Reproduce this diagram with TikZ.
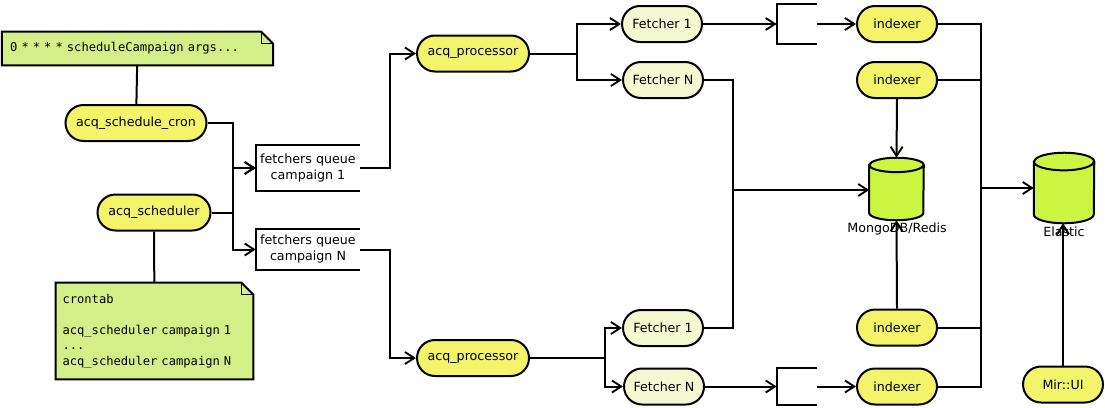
\documentclass[tikz,border=0pt]{standalone}
\usepackage{fontspec}
\setmainfont{DejaVu Sans}
\setmonofont{DejaVu Sans Mono}
\usepackage{tikz}
\usetikzlibrary{arrows.meta,backgrounds}

\definecolor{procyellow}{RGB}{244,244,106}
\definecolor{fetchyellow}{RGB}{245,249,210}
\definecolor{notegreen}{RGB}{212,239,136}
\definecolor{storegreen}{RGB}{204,245,66}

\tikzset{
  wire/.style={line width=1.5pt},
  flow/.style={wire,-{Straight Barb[length=7pt,width=9pt,line width=1.4pt]}},
  proc/.style={draw,wire,fill=procyellow,rounded corners=13.5pt,
    minimum height=27pt,inner sep=0pt},
  fetcher/.style={proc,fill=fetchyellow,minimum width=60pt},
  queue/.style={inner sep=0pt,align=center,minimum width=78pt},
  bracketbox/.style={inner sep=0pt,minimum width=30pt},
  note/.style={inner ysep=0pt,inner xsep=5pt,align=left,
    font=\ttfamily\fontsize{9.1}{11.6}\selectfont},
  store/.style={inner sep=0pt}
}

% note with a turned-down corner
\newcommand{\notefold}[1]{%
  \begin{scope}[on background layer]
    \draw[wire,fill=notegreen] (#1.south west) -- (#1.north west)
      -- ([xshift=-9pt]#1.north east) -- ([yshift=-9pt]#1.north east)
      -- (#1.south east) -- cycle;
    \draw[line width=0.6pt] ([xshift=-9pt]#1.north east)
      -- ([xshift=-9pt,yshift=-9pt]#1.north east) -- ([yshift=-9pt]#1.north east);
  \end{scope}}
% box open on its right side
\newcommand{\openbox}[1]{%
  \draw[wire] (#1.north east) -- (#1.north west) -- (#1.south west) -- (#1.south east);}
% upright drum: node name, x radius, y radius
\newcommand{\drum}[3]{%
  \filldraw[wire,fill=storegreen] ([yshift=-#3]#1.north west) -- ([yshift=#3]#1.south west)
    arc[start angle=180,end angle=360,x radius=#2,y radius=#3]
    -- ([yshift=-#3]#1.north east)
    arc[start angle=0,end angle=180,x radius=#2,y radius=#3] -- cycle;
  \draw[wire] ([yshift=-#3]#1.north west)
    arc[start angle=180,end angle=360,x radius=#2,y radius=#3];}

\begin{document}
\begin{tikzpicture}[x=0.75pt,y=-0.75pt,font=\fontsize{9.5}{12}\selectfont]
  \useasboundingbox (0,0) rectangle (1105,407);
  % scheduling side
  \node[note,minimum height=25pt,text width=191pt,inner xsep=6pt] (cronnote) at (137.5,48.5)
    {0 * * * * scheduleCampaign args...};
  \notefold{cronnote}
  \node[proc,minimum width=105.75pt] (cron) at (136,123) {acq\_schedule\_cron};
  \node[proc,minimum width=84.75pt] (sched) at (154,212.5) {acq\_scheduler};
  \node[note,minimum height=72pt,text width=138pt] (tabnote) at (154.5,331)
    {crontab\\[11.6pt]acq\_scheduler campaign 1\\...\\acq\_scheduler campaign N};
  \notefold{tabnote}
  \draw[wire] (cronnote) -- (cron);
  \draw[wire] (sched) -- (tabnote);

  % queues
  \node[queue,minimum height=34.5pt] (q1) at (308,168) {fetchers queue\\campaign 1};
  \node[queue,minimum height=30.75pt] (q2) at (308,249.5) {fetchers queue\\campaign N};
  \openbox{q1}
  \openbox{q2}
  \draw[flow] (cron.east) -- ++(25.5,0) |- (q1.west);
  \draw[flow] (sched.east) -- ++(21.5,0) |- (q1.west);
  \draw[flow] (sched.east) -- ++(21.5,0) |- (q2.west);

  % processors and fetchers
  \node[proc,minimum width=84pt] (proc1) at (473,53.5) {acq\_processor};
  \node[proc,minimum width=84pt] (proc2) at (473,358) {acq\_processor};
  \draw[flow] (q1.east) -- ++(30,0) |- (proc1.west);
  \draw[flow] (q2.east) -- ++(30,0) |- (proc2.west);
  \node[fetcher] (f1) at (662,24) {Fetcher 1};
  \node[fetcher] (fn) at (663,80) {Fetcher N};
  \node[fetcher] (f1b) at (663,328) {Fetcher 1};
  \node[fetcher] (fnb) at (664,386.5) {Fetcher N};
  \draw[flow] (proc1.east) -- ++(47,0) |- (f1.west);
  \draw[flow] (proc1.east) -- ++(47,0) |- (fn.west);
  \draw[flow] (proc2.east) -- ++(75,0) |- (f1b.west);
  \draw[flow] (proc2.east) -- ++(75,0) |- (fnb.west);

  % indexers and stores
  \node[bracketbox,minimum height=30pt] (b1) at (797,24) {};
  \node[bracketbox,minimum height=27.75pt] (b2) at (797,386.5) {};
  \openbox{b1}
  \openbox{b2}
  \node[proc,minimum width=60pt] (ix1) at (897,24) {indexer};
  \node[proc,minimum width=60pt] (ix2) at (897,80) {indexer};
  \node[proc,minimum width=60pt] (ix3) at (897,327.5) {indexer};
  \node[proc,minimum width=60pt] (ix4) at (897,386.5) {indexer};
  \node[proc,minimum width=60pt] (mir) at (1063,384.5) {Mir::UI};
  \node[store,minimum width=40.5pt,minimum height=46.5pt] (mongo) at (896.5,189) {};
  \drum{mongo}{20.25pt}{5.4pt}
  \node[store,minimum width=45pt,minimum height=52.5pt] (elastic) at (1064,188) {};
  \drum{elastic}{22.5pt}{6.6pt}
  \node (mongolabel) at (897,229) {MongoDB/Redis};
  \node (elasticlabel) at (1064,232) {Elastic};
  \coordinate (fetchjoin) at (733,190);
  \coordinate (bus) at (981,188);

  \draw[flow] (f1.east) -- (b1.west);
  \draw[flow] (b1.east) -- (ix1.west);
  \draw[flow] (fnb.east) -- (b2.west);
  \draw[flow] (b2.east) -- (ix4.west);
  \draw[wire] (fn.east) -| (fetchjoin);
  \draw[wire] (f1b.east) -| (fetchjoin);
  \draw[flow] (fetchjoin) -- (mongo.west |- fetchjoin);
  \draw[flow] (ix2.south) -- (mongo.north);
  \draw[flow] (ix3.north) -- (mongo.south);
  \draw[wire] (ix1.east) -| (bus);
  \draw[wire] (ix2.east) -| (bus);
  \draw[wire] (ix3.east) -| (bus);
  \draw[wire] (ix4.east) -| (bus);
  \draw[flow] (bus) -- (elastic.west);
  \draw[flow] (mir.north) -- (elastic.south -| mir.north);
\end{tikzpicture}
\end{document}
